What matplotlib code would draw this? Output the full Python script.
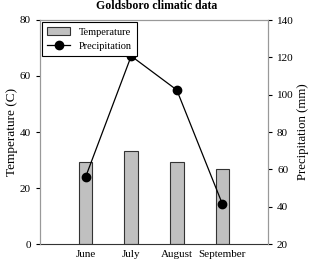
import matplotlib.pyplot as plt
import numpy as np

plt.rcParams['font.family'] = ['Liberation Serif', 'DejaVu Serif']

months = ['June', 'July', 'August', 'September']
temperature = [29.3, 33.3, 29.3, 26.8]
precipitation = [55.9, 120.7, 102.5, 41.4]

fig = plt.figure(figsize=(3.13, 2.69), dpi=100)
ax = fig.add_axes([40/313, 25/269, 228/313, 224/269])
x = np.arange(1, len(months)+1)

bars = ax.bar(x, temperature, width=0.3, color='#c0c0c0', edgecolor='#333333', linewidth=0.8, label='Temperature')
ax.set_xlim(0, 5)
ax.set_ylim(0, 80)
ax.set_yticks([0, 20, 40, 60, 80])
ax.set_xticks(x)
ax.set_xticklabels(months, fontsize=8)
ax.tick_params(axis='x', length=0, pad=4)
ax.tick_params(axis='y', labelsize=8, length=3)
ax.set_ylabel('Temperature (C)', fontsize=9.5, labelpad=1)
for s in ['left', 'top', 'right']:
    ax.spines[s].set_color('#999999')
ax.spines['bottom'].set_color('#333333')

ax2 = ax.twinx()
line, = ax2.plot(x, precipitation, color='black', marker='o', markersize=6, linewidth=0.9, label='Precipitation')
ax2.set_ylim(20, 140)
ax2.set_yticks([20, 40, 60, 80, 100, 120, 140])
ax2.tick_params(axis='y', labelsize=8, length=3)
ax2.set_ylabel('Precipitation (mm)', fontsize=9.2, labelpad=2)
for s in ['left', 'top', 'right']:
    ax2.spines[s].set_color('#999999')
ax2.spines['bottom'].set_visible(False)

leg = ax2.legend([bars, line], ['Temperature', 'Precipitation'], loc='upper left', fontsize=7.5,
                 fancybox=False, edgecolor='black', framealpha=1, borderaxespad=0.2,
                 handlelength=2.2, labelspacing=0.5, borderpad=0.5)
leg.get_frame().set_linewidth(0.8)

fig.text(0.5, 0.999, 'Goldsboro climatic data', ha='center', va='top', fontsize=8.5, fontweight='bold')

fig.savefig('out.png', dpi=100)
